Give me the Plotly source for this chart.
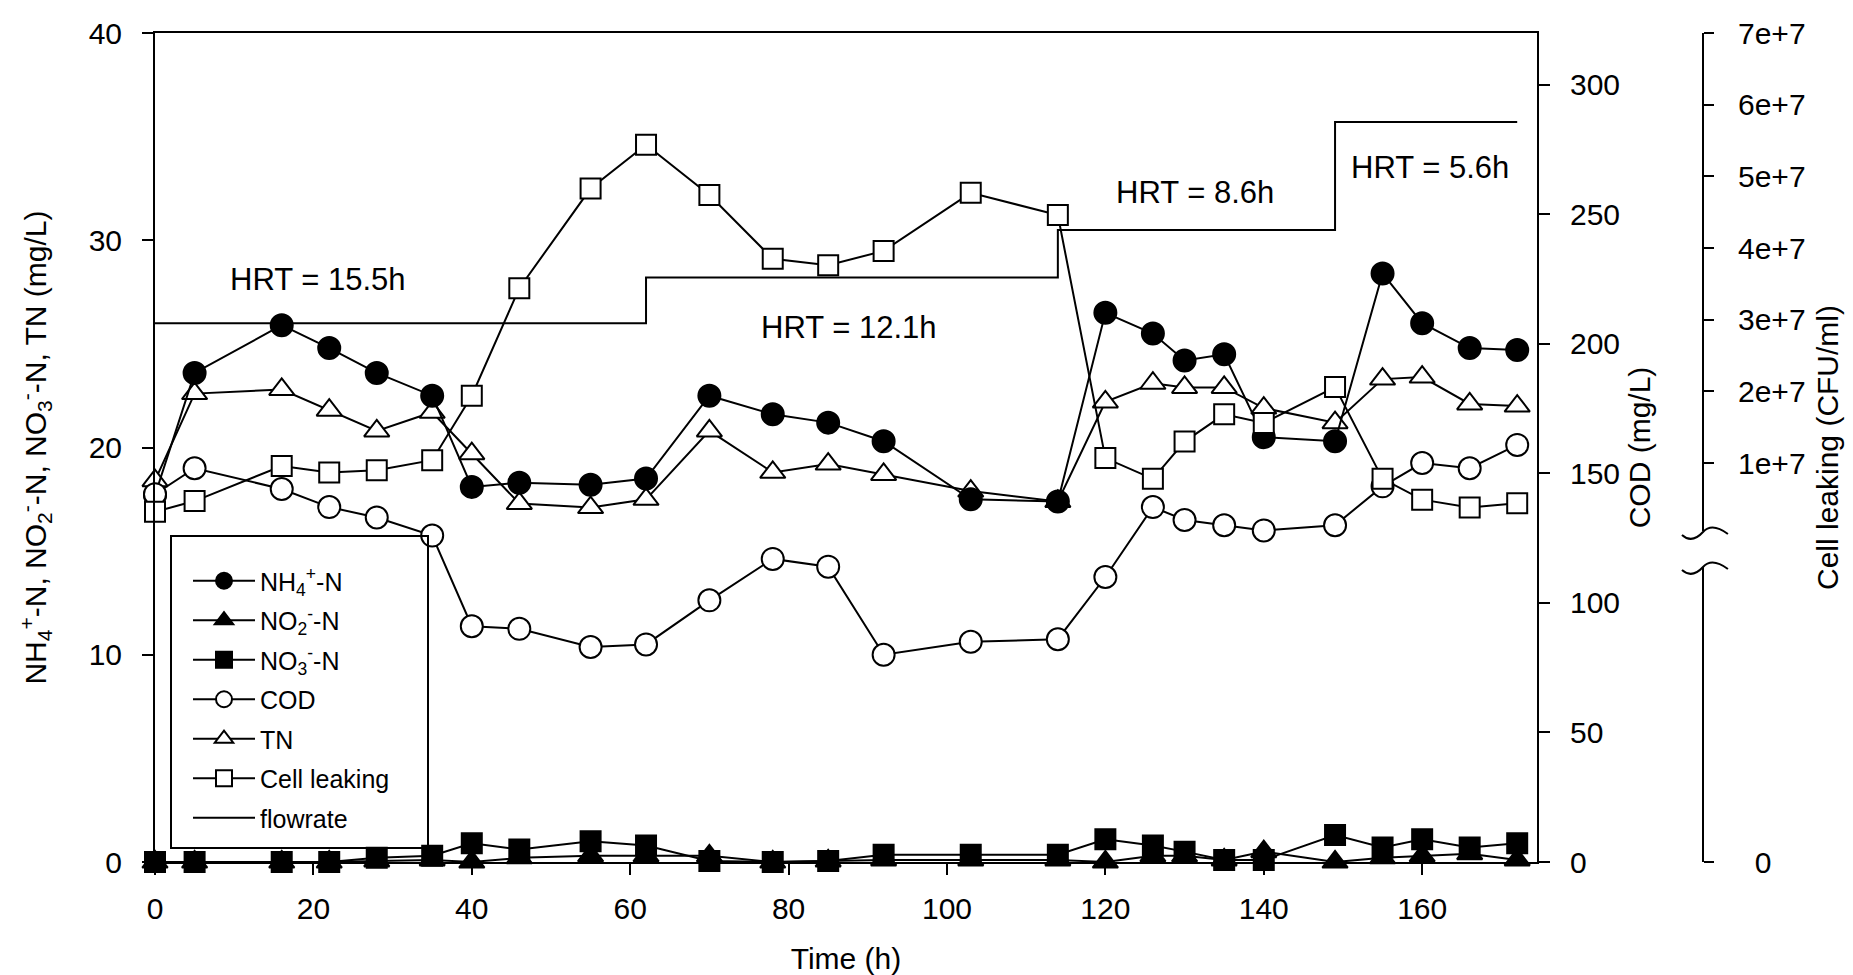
import plotly.graph_objects as go

# ---------------- data ----------------
time_h = [0, 5, 16, 22, 28, 35, 40, 46, 55, 62, 70, 78, 85, 92, 103, 114,
          120, 126, 130, 135, 140, 149, 155, 160, 166, 172]
nh4 = [17.7, 23.6, 25.9, 24.8, 23.6, 22.5, 18.1, 18.3, 18.2, 18.5, 22.5, 21.6, 21.2,
       20.3, 17.5, 17.4, 26.5, 25.5, 24.2, 24.5, 20.5, 20.3, 28.4, 26.0, 24.8, 24.7]
no2 = [0, 0, 0, 0, 0.05, 0.1, 0, 0.2, 0.3, 0.3, 0.3, 0, 0.05, 0.1, 0.1, 0.1,
       0, 0.3, 0.3, 0.1, 0.5, 0, 0.2, 0.3, 0.4, 0.1]
no3 = [0, 0, 0, 0, 0.2, 0.3, 0.9, 0.6, 1.0, 0.8, 0.05, 0, 0.05, 0.35, 0.35, 0.35,
       1.1, 0.8, 0.5, 0.1, 0.1, 1.3, 0.7, 1.1, 0.7, 0.9]
tn = [18.4, 22.6, 22.8, 21.8, 20.8, 21.7, 19.7, 17.3, 17.1, 17.5, 20.8, 18.8, 19.2,
      18.7, 17.9, 17.4, 22.2, 23.1, 22.9, 22.9, 21.9, 21.2, 23.3, 23.4, 22.1, 22.0]
cod = [142, 152, 144, 137, 133, 126, 91, 90, 83, 84, 101, 117, 114, 80, 85, 86,
       110, 137, 132, 130, 128, 130, 145, 154, 152, 161]
cell = [3.2e6, 4.7e6, 9.6e6, 8.7e6, 9.0e6, 1.04e7, 1.94e7, 3.44e7, 4.83e7, 5.44e7,
        4.74e7, 3.85e7, 3.76e7, 3.96e7, 4.77e7, 4.46e7, 1.07e7, 7.8e6, 1.30e7,
        1.68e7, 1.56e7, 2.06e7, 7.8e6, 4.9e6, 3.8e6, 4.4e6]
flow_t = [0, 62, 114, 149, 172]
flow_v = [26.0, 28.2, 30.5, 35.7, 35.7]

hrt_labels = ["HRT = 15.5h", "HRT = 12.1h", "HRT = 8.6h", "HRT = 5.6h"]
hrt_x = [20.6, 87.6, 131.3, 161.0]
hrt_y = [28.1, 25.8, 32.3, 33.5]

left_ticks = [0, 10, 20, 30, 40]
cod_ticks = [0, 50, 100, 150, 200, 250, 300]
x_ticks = [0, 20, 40, 60, 80, 100, 120, 140, 160]
cell_bottom = -4.565e7          # value shown as "0" below the axis break
cell_ticks = [cell_bottom, 1e7, 2e7, 3e7, 4e7, 5e7, 6e7, 7e7]
cell_ticktext = ["\u00a0\u00a00", "1e+7", "2e+7", "3e+7", "4e+7", "5e+7", "6e+7", "7e+7"]

FONT = "Liberation Sans, Arial, sans-serif"
BLACK = "black"

fig = go.Figure()

# flowrate step line
fig.add_trace(go.Scatter(
    x=flow_t, y=flow_v, mode="lines", line=dict(color=BLACK, width=2, shape="hv"),
    name="flowrate", legendgroup="g7", legendrank=7, yaxis="y", cliponaxis=False))

def add_series(y, name, symbol, filled, size, rank, axis):
    fig.add_trace(go.Scatter(
        x=time_h, y=y, mode="lines+markers", name=name, yaxis=axis,
        legendgroup="g%d" % rank, legendrank=rank, cliponaxis=False,
        line=dict(color=BLACK, width=2),
        marker=dict(symbol=symbol, size=size,
                    color=BLACK if filled else "white",
                    line=dict(color=BLACK, width=2))))

add_series(cell, "Cell leaking", "square", False, 20, 6, "y3")
add_series(cod, "COD", "circle", False, 22, 4, "y2")
add_series(tn, "TN", "triangle-up", False, 22, 5, "y")
add_series(nh4, "NH<sub>4</sub><sup>+</sup>-N", "circle", True, 22, 1, "y")
add_series(no3, "NO<sub>3</sub><sup>-</sup>-N", "square", True, 20, 3, "y")
add_series(no2, "NO<sub>2</sub><sup>-</sup>-N", "triangle-up", True, 22, 2, "y")

XDOM = 1382 / 1548

def ypix(py):
    return (862 - py) / 829.0

def xpix(px):
    return (px - 155) / 1548.0

shapes = []
# broken third axis line
shapes.append(dict(type="line", xref="paper", yref="paper", x0=1, x1=1,
                   y0=0, y1=ypix(567), line=dict(color=BLACK, width=2)))
shapes.append(dict(type="line", xref="paper", yref="paper", x0=1, x1=1,
                   y0=ypix(531), y1=1, line=dict(color=BLACK, width=2)))
for yc in (532, 567):
    p = "M %.4f,%.4f Q %.4f,%.4f %.4f,%.4f Q %.4f,%.4f %.4f,%.4f" % (
        xpix(1682), ypix(yc + 3), xpix(1692), ypix(yc + 12), 1.0, ypix(yc),
        xpix(1712), ypix(yc - 10), xpix(1728), ypix(yc + 2))
    shapes.append(dict(type="path", xref="paper", yref="paper", path=p,
                       line=dict(color=BLACK, width=2)))
# legend box
shapes.append(dict(type="rect", xref="paper", yref="paper",
                   x0=xpix(171), x1=xpix(428), y0=ypix(848), y1=ypix(536),
                   line=dict(color=BLACK, width=2), fillcolor="rgba(0,0,0,0)"))

annotations = [dict(x=hx, y=hy, xref="x", yref="y", text=t, showarrow=False,
                    font=dict(size=31, color=BLACK, family=FONT))
               for t, hx, hy in zip(hrt_labels, hrt_x, hrt_y)]

fig.update_layout(
    width=1853, height=975,
    margin=dict(l=155, r=150, t=33, b=113, autoexpand=False),
    paper_bgcolor="white", plot_bgcolor="white",
    font=dict(family=FONT, color=BLACK, size=30),
    showlegend=True,
    legend=dict(x=xpix(188), y=ypix(558), xanchor="left", yanchor="top",
                bgcolor="rgba(0,0,0,0)", borderwidth=0,
                font=dict(size=25, family=FONT, color=BLACK),
                traceorder="grouped", tracegroupgap=4, itemwidth=62),
    xaxis=dict(domain=[0, XDOM], range=[0, 174.5], tickvals=x_ticks,
               showline=True, linecolor=BLACK, linewidth=2, mirror=True,
               ticks="outside", ticklen=11, tickwidth=2, tickcolor=BLACK,
               showgrid=False, zeroline=False, ticklabelstandoff=8, automargin=False,
               title=dict(text="Time (h)", font=dict(size=30), standoff=27)),
    yaxis=dict(range=[0, 40], tickvals=left_ticks,
               showline=True, linecolor=BLACK, linewidth=2,
               ticks="outside", ticklen=11, tickwidth=2, tickcolor=BLACK,
               showgrid=False, zeroline=False, ticklabelstandoff=14, automargin=False,
               title=dict(text="NH<sub>4</sub><sup>+</sup>-N, NO<sub>2</sub><sup>-</sup>-N, "
                               "NO<sub>3</sub><sup>-</sup>-N, TN (mg/L)",
                          font=dict(size=30), standoff=33)),
    yaxis2=dict(range=[0, 320], tickvals=cod_ticks, overlaying="y", side="right",
                anchor="x", showline=True, linecolor=BLACK, linewidth=2,
                ticks="outside", ticklen=11, tickwidth=2, tickcolor=BLACK,
                showgrid=False, zeroline=False, ticklabelstandoff=14, automargin=False,
                title=dict(text="COD (mg/L)", font=dict(size=30), standoff=10)),
    yaxis3=dict(range=[cell_bottom, 7e7], tickvals=cell_ticks, ticktext=cell_ticktext,
                overlaying="y", side="right", anchor="free", position=1.0,
                showline=False, ticks="outside", ticklen=10, tickwidth=2,
                tickcolor=BLACK, showgrid=False, zeroline=False, automargin=False,
                ticklabelstandoff=18,
                title=dict(text="Cell leaking (CFU/ml)", font=dict(size=30), standoff=12)),
    shapes=shapes,
    annotations=annotations,
)

fig.write_html("out.html")
